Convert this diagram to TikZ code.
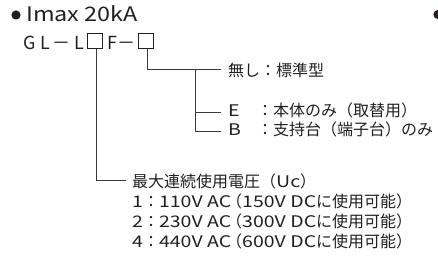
\documentclass[tikz,border=0pt]{standalone}
\usepackage{fontspec}
\setmainfont{Noto Sans CJK JP}
\newfontfamily\latfont{Noto Sans CJK JP}[FakeStretch=1.22]
\newfontfamily\titlefont{Noto Sans CJK JP}[FakeStretch=1.17]
\newcommand{\lt}[1]{{\latfont #1}}
\definecolor{txt}{HTML}{231F20}
\definecolor{ln}{HTML}{3A3A3A}
\tikzset{
  lbl/.style={anchor=base west, inner sep=0pt, text=txt, font=\fontsize{16}{16}\selectfont},
  code/.style={anchor=base, inner sep=0pt, text=txt, font=\fontsize{18}{18}\selectfont},
  sq/.style={draw=txt, line width=0.9pt, minimum width=15pt, minimum height=15pt, inner sep=0pt},
  conn/.style={draw=ln, line width=0.8pt}
}
\begin{document}
\begin{tikzpicture}[x=1pt,y=-1pt]
\useasboundingbox (0,0) rectangle (438,264);
\clip (0,0) rectangle (438,264);
% bullets
\fill[txt] (16,15) circle (4.6);
\fill[txt] (438,14.5) circle (4.6);
\node[anchor=base west, inner sep=0pt, text=txt, font=\fontsize{20}{20}\selectfont\titlefont] (title) at (26,22) {Imax 20kA};
% code line
\node[code] (c1) at (30,50) {G};
\node[code] (c2) at (45.5,50) {L};
\node[code] (c3) at (61.5,50) {－};
\node[code] (c4) at (79,50) {L};
\node[sq] (sq1) at (95,41) {};
\node[code] (c5) at (112,50) {F};
\node[code] (c6) at (126.5,50) {－};
\node[sq] (sq2) at (145.5,41) {};
% connectors
\coordinate (k1) at (96,180);
\coordinate (k1e) at (126,180);
\coordinate (k2) at (147,69);
\coordinate (k2e) at (221,69);
\coordinate (b0) at (195,69);
\coordinate (bE) at (195,112);
\coordinate (bB) at (195,131);
\coordinate (bEe) at (221,112);
\coordinate (bBe) at (221,131);
\draw[conn] (sq1.south -| k1) -- (k1) -- (k1e);
\draw[conn] (sq2.south -| k2) -- (k2) -- (k2e);
\draw[conn] (b0) -- (bB) -- (bBe);
\draw[conn] (bE) -- (bEe);
% labels
\node[lbl] (std) at (228,77) {無し：標準型};
\node[lbl] (optE) at (228,117) {\makebox[29pt][l]{\lt{E}}：本体のみ（取替用）};
\node[lbl] (optB) at (228,135.5) {\makebox[29pt][l]{\lt{B}}：支持台（端子台）のみ};
\node[lbl] (uc) at (132,187.5) {最大連続使用電圧（\lt{Uc}）};
\node[lbl] (v1) at (132,207.7) {\lt{1}：\lt{110V AC}\kern-5pt（\lt{150V DC}に使用可能）};
\node[lbl] (v2) at (132,227.4) {\lt{2}：\lt{230V AC}\kern-5pt（\lt{300V DC}に使用可能）};
\node[lbl] (v4) at (132,247) {\lt{4}：\lt{440V AC}\kern-5pt（\lt{600V DC}に使用可能）};
\end{tikzpicture}
\end{document}
